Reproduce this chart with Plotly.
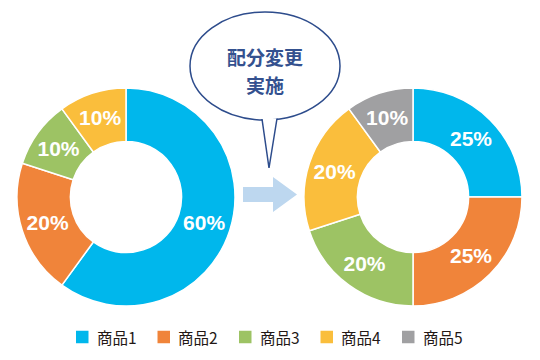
import plotly.graph_objects as go

W, H = 540, 360

labels = ["商品1", "商品2", "商品3", "商品4", "商品5"]
colors = ["#00B7EC", "#F0843A", "#9DC364", "#FABE3C", "#A0A0A2"]
before_values = [60, 20, 10, 10]
after_values = [25, 25, 20, 20, 10]
bubble_lines = ["配分変更", "実施"]

def px(x):
    return x / W

def py(y):
    return 1 - y / H

fig = go.Figure()

common = dict(
    hole=0.51,
    sort=False,
    direction="clockwise",
    rotation=0,
    texttemplate="%{value}%",
    textposition="inside",
    insidetextorientation="horizontal",
    textfont=dict(family="Liberation Sans, Arial", size=21, color="white", weight="bold"),
    hoverinfo="skip",
    showlegend=False,
)

fig.add_trace(go.Pie(
    labels=labels[:len(before_values)], values=before_values,
    marker=dict(colors=colors[:len(before_values)], line=dict(color="white", width=1.5)),
    domain=dict(x=[px(17), px(235)], y=[py(306), py(88)]),
    **common,
))
fig.add_trace(go.Pie(
    labels=labels, values=after_values,
    marker=dict(colors=colors, line=dict(color="white", width=1.5)),
    domain=dict(x=[px(304), px(522)], y=[py(306), py(88)]),
    **common,
))

navy = "#2D4C8C"
shapes = [
    # arrow
    dict(type="path", xref="paper", yref="paper",
         path=(f"M{px(243)},{py(187)} L{px(273)},{py(187)} L{px(273)},{py(177)} "
               f"L{px(297)},{py(194.5)} L{px(273)},{py(212)} L{px(273)},{py(202)} "
               f"L{px(243)},{py(202)} Z"),
         fillcolor="#BDD7EF", line=dict(width=0)),
    # bubble ellipse
    dict(type="circle", xref="paper", yref="paper",
         x0=px(190), x1=px(340), y0=py(120), y1=py(12),
         fillcolor="white", line=dict(color=navy, width=1.5)),
    # bubble tail
    dict(type="path", xref="paper", yref="paper",
         path=f"M{px(262)},{py(119)} L{px(269)},{py(168)} L{px(277)},{py(118.5)}",
         fillcolor="white", line=dict(color=navy, width=1.5)),
]

bubble_font = dict(family="Noto Sans CJK JP", size=19, color="#34518F", weight="bold")
annotations = [
    dict(text=bubble_lines[0], x=px(265), y=py(56), xref="paper", yref="paper",
         showarrow=False, yanchor="middle", font=bubble_font),
    dict(text=bubble_lines[1], x=px(265), y=py(84.5), xref="paper", yref="paper",
         showarrow=False, yanchor="middle", font=bubble_font),
]

# manual legend
leg_x0, leg_step, leg_y, sq = 76, 81.5, 337, 12.5
for i, (lab, col) in enumerate(zip(labels, colors)):
    x0 = leg_x0 + i * leg_step
    shapes.append(dict(type="rect", xref="paper", yref="paper",
                       x0=px(x0), x1=px(x0 + sq), y0=py(leg_y + sq / 2), y1=py(leg_y - sq / 2),
                       fillcolor=col, line=dict(width=0)))
    annotations.append(dict(text=lab, x=px(x0 + 18.5), y=py(leg_y), xref="paper", yref="paper",
                            xanchor="left", yanchor="middle", showarrow=False,
                            font=dict(family="Noto Sans CJK JP", size=15.5, color="#231815")))

fig.update_layout(
    width=W, height=H,
    margin=dict(l=0, r=0, t=0, b=0, autoexpand=False),
    paper_bgcolor="white", plot_bgcolor="white",
    shapes=shapes, annotations=annotations,
    uniformtext=dict(minsize=21, mode="show"),
    showlegend=False,
)

fig.write_html("out.html", config={"displayModeBar": False},
               post_script="document.body.style.margin='0';")
